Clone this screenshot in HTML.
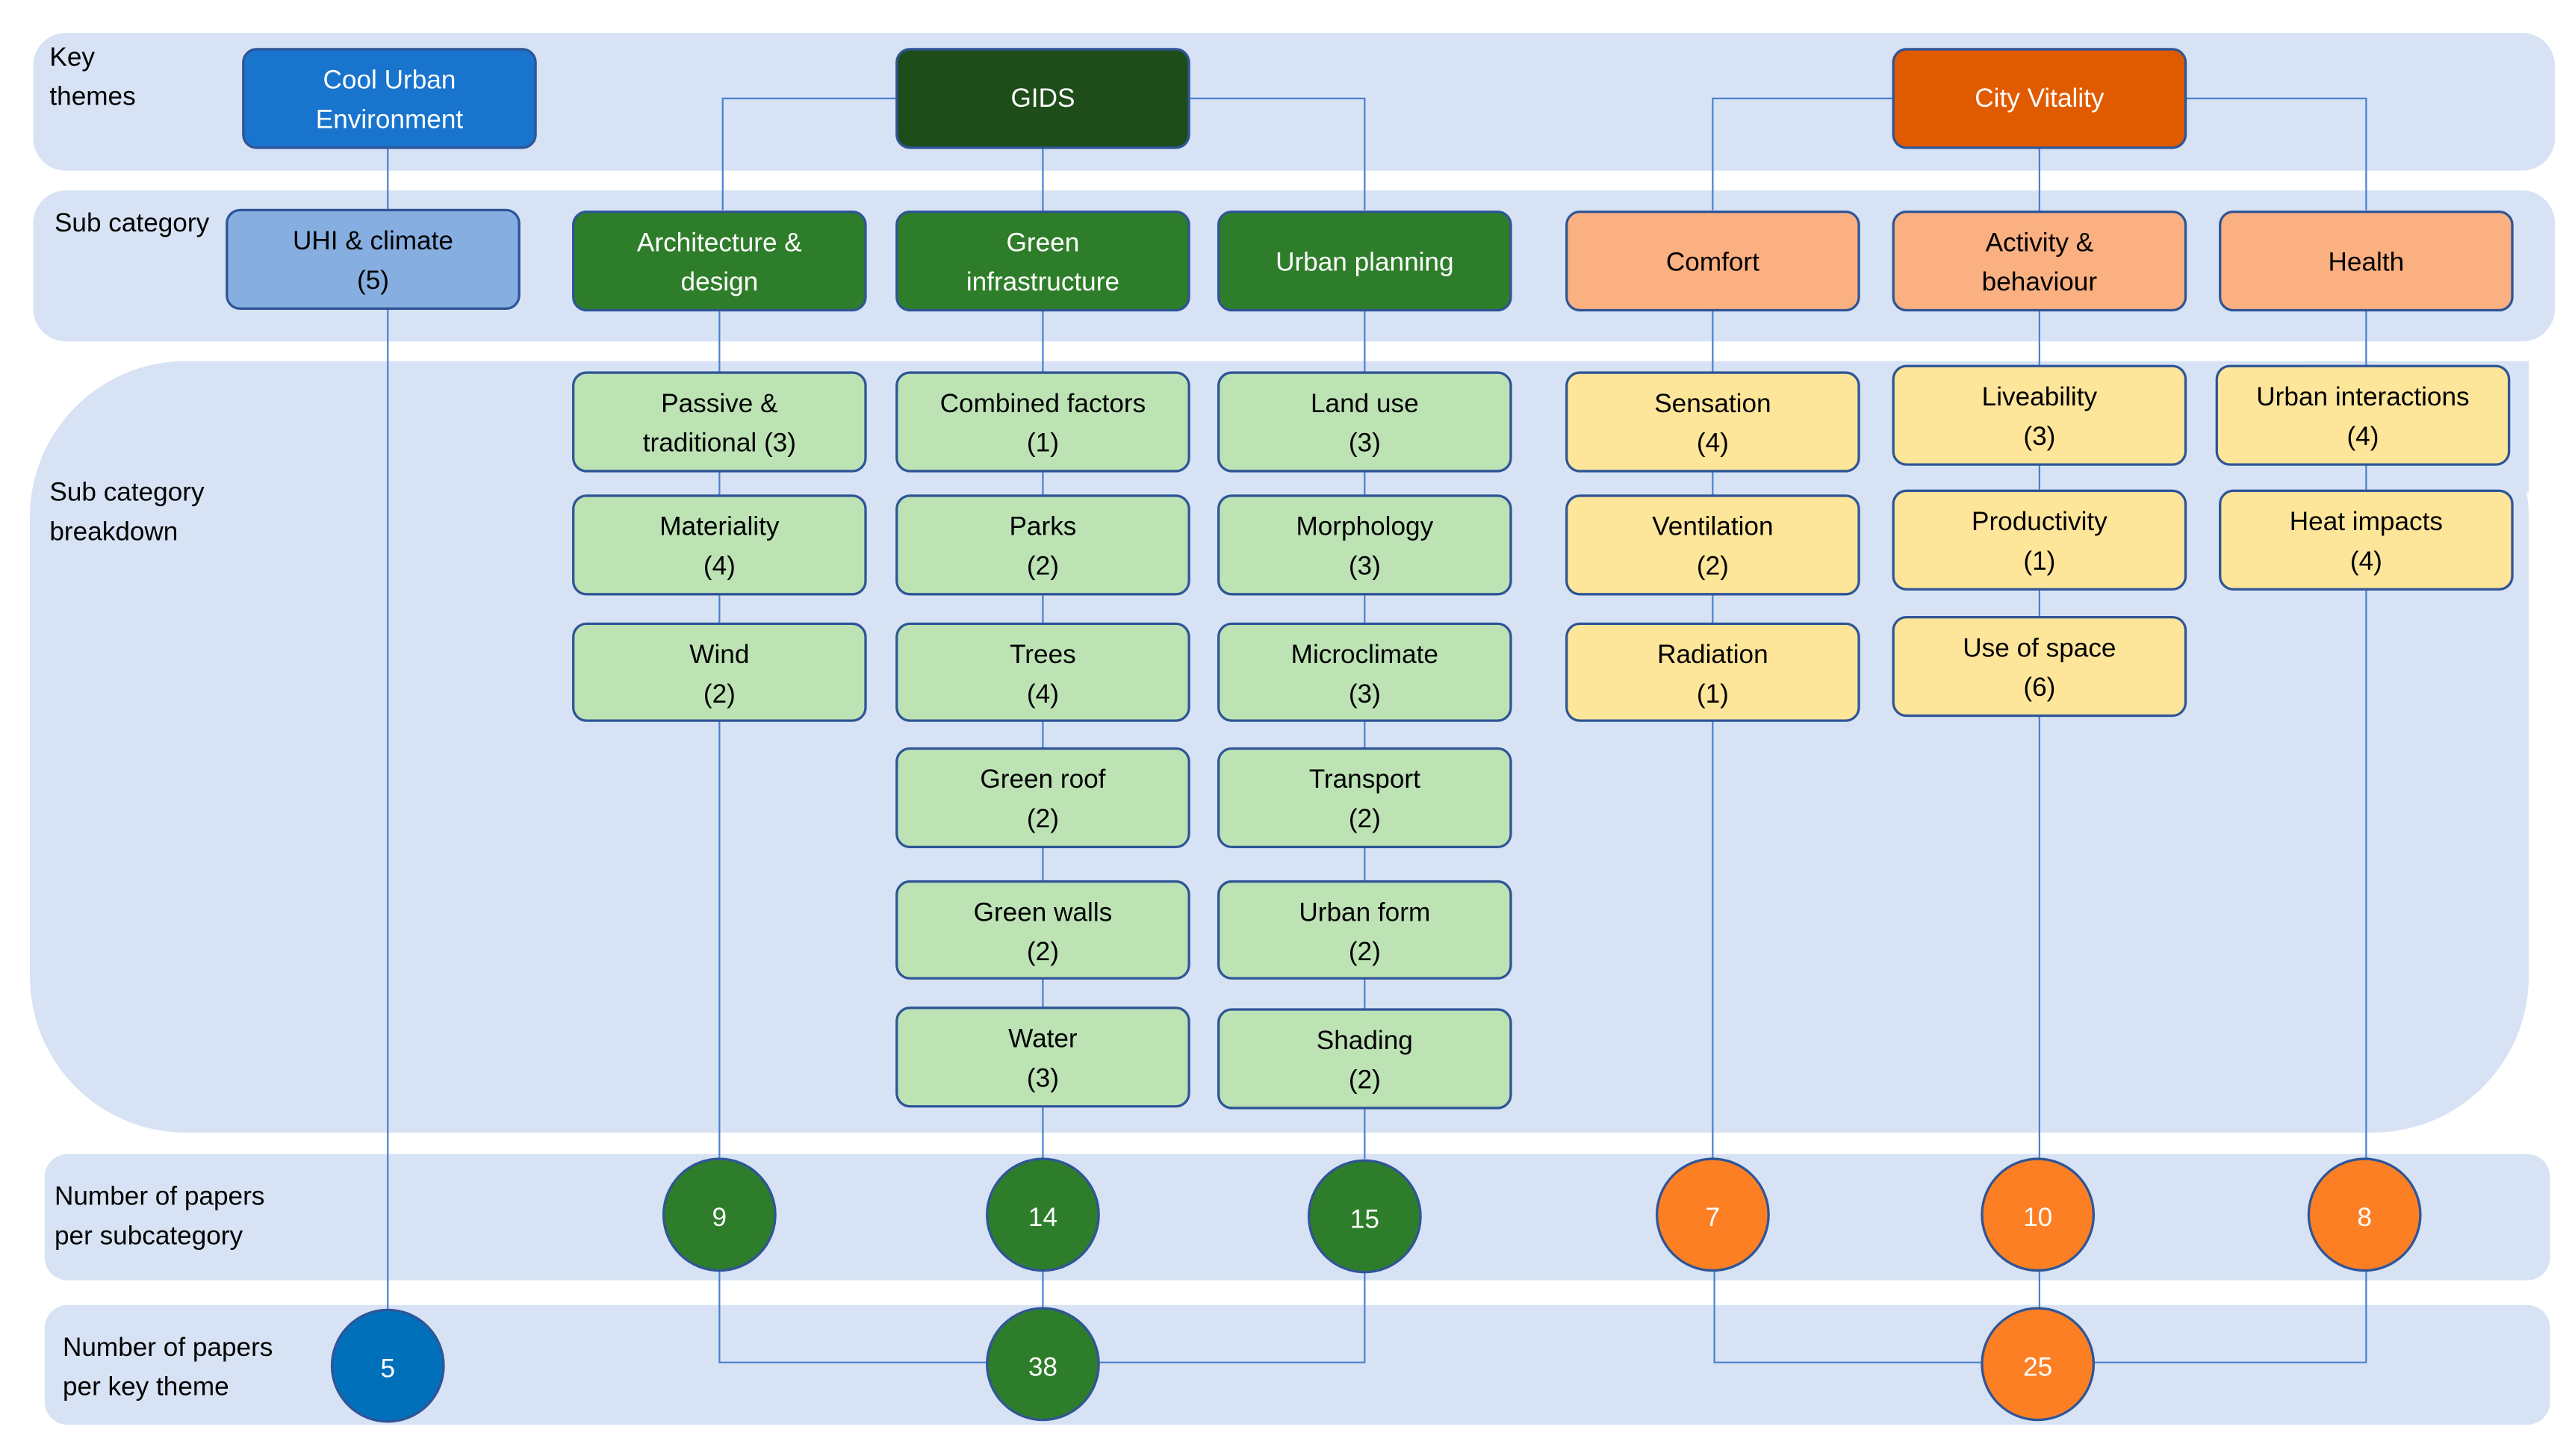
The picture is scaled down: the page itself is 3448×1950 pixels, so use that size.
<!DOCTYPE html>
<html><head><meta charset="utf-8"><style>
html,body{margin:0;padding:0;background:#fff}
svg{display:block}
text{font-family:"Liberation Sans",sans-serif;font-size:16px}
</style></head><body>
<svg width="3448" height="1950" viewBox="0 0 1568 887" xmlns="http://www.w3.org/2000/svg">
<rect width="1568" height="887" fill="#fff"/>
<g fill="#d7e3f4">
<rect x="20" y="20" width="1536" height="84" rx="20"/>
<rect x="20" y="116" width="1536" height="92" rx="20"/>
<rect x="18" y="220" width="1522" height="470" rx="95"/>
<rect x="1400" y="220" width="140" height="80"/>
<rect x="27" y="703" width="1526" height="77" rx="14"/>
<rect x="27" y="795" width="1526" height="73" rx="14"/>
</g>
<g stroke="#4a7fd0" stroke-width="1" fill="none">
<line x1="236" y1="90" x2="236" y2="800"/>
<polyline points="440,128 440,60 831,60 831,128"/>
<line x1="635" y1="90" x2="635" y2="800"/>
<line x1="438" y1="189" x2="438" y2="706"/>
<line x1="831" y1="189" x2="831" y2="706"/>
<polyline points="438,774 438,830 831,830 831,774"/>
<polyline points="1043,128 1043,60 1441,60 1441,128"/>
<line x1="1242" y1="90" x2="1242" y2="800"/>
<line x1="1043" y1="189" x2="1043" y2="706"/>
<line x1="1441" y1="189" x2="1441" y2="706"/>
<polyline points="1044,774 1044,830 1441,830 1441,774"/>
</g>
<g stroke="#2f5597" stroke-width="1.5">
<rect x="148" y="30" width="178" height="60" rx="8" fill="#1874cd"/>
<rect x="546" y="30" width="178" height="60" rx="8" fill="#1e4d1a"/>
<rect x="1153" y="30" width="178" height="60" rx="8" fill="#e05a00"/>
<rect x="138" y="128" width="178" height="60" rx="8" fill="#86aee0"/>
<rect x="349" y="129" width="178" height="60" rx="8" fill="#2e7d2a"/>
<rect x="546" y="129" width="178" height="60" rx="8" fill="#2e7d2a"/>
<rect x="742" y="129" width="178" height="60" rx="8" fill="#2e7d2a"/>
<rect x="954" y="129" width="178" height="60" rx="8" fill="#fbb081"/>
<rect x="1153" y="129" width="178" height="60" rx="8" fill="#fbb081"/>
<rect x="1352" y="129" width="178" height="60" rx="8" fill="#fbb081"/>
<g fill="#bde3b5">
<rect x="349" y="227" width="178" height="60" rx="8"/>
<rect x="349" y="302" width="178" height="60" rx="8"/>
<rect x="349" y="380" width="178" height="59" rx="8"/>
<rect x="546" y="227" width="178" height="60" rx="8"/>
<rect x="546" y="302" width="178" height="60" rx="8"/>
<rect x="546" y="380" width="178" height="59" rx="8"/>
<rect x="546" y="456" width="178" height="60" rx="8"/>
<rect x="546" y="537" width="178" height="59" rx="8"/>
<rect x="546" y="614" width="178" height="60" rx="8"/>
<rect x="742" y="227" width="178" height="60" rx="8"/>
<rect x="742" y="302" width="178" height="60" rx="8"/>
<rect x="742" y="380" width="178" height="59" rx="8"/>
<rect x="742" y="456" width="178" height="60" rx="8"/>
<rect x="742" y="537" width="178" height="59" rx="8"/>
<rect x="742" y="615" width="178" height="60" rx="8"/>
</g>
<g fill="#fde599">
<rect x="954" y="227" width="178" height="60" rx="8"/>
<rect x="954" y="302" width="178" height="60" rx="8"/>
<rect x="954" y="380" width="178" height="59" rx="8"/>
<rect x="1153" y="223" width="178" height="60" rx="8"/>
<rect x="1153" y="299" width="178" height="60" rx="8"/>
<rect x="1153" y="376" width="178" height="60" rx="8"/>
<rect x="1350" y="223" width="178" height="60" rx="8"/>
<rect x="1352" y="299" width="178" height="60" rx="8"/>
</g>
<circle cx="438" cy="740" r="34" fill="#2e7d2a"/>
<circle cx="635" cy="740" r="34" fill="#2e7d2a"/>
<circle cx="831" cy="741" r="34" fill="#2e7d2a"/>
<circle cx="1043" cy="740" r="34" fill="#fd7f24"/>
<circle cx="1241" cy="740" r="34" fill="#fd7f24"/>
<circle cx="1440" cy="740" r="34" fill="#fd7f24"/>
<circle cx="236" cy="832" r="34" fill="#0070bb"/>
<circle cx="635" cy="831" r="34" fill="#2e7d2a"/>
<circle cx="1241" cy="831" r="34" fill="#fd7f24"/>
</g>
<g fill="#000">
<text x="30" y="40">Key</text><text x="30" y="64">themes</text>
<text x="33" y="141">Sub category</text>
<text x="30" y="305">Sub category</text><text x="30" y="329">breakdown</text>
<text x="33" y="734">Number of papers</text><text x="33" y="758">per subcategory</text>
<text x="38" y="826">Number of papers</text><text x="38" y="850">per key theme</text>
</g>
<g text-anchor="middle" fill="#fff">
<text x="237" y="54">Cool Urban</text><text x="237" y="78">Environment</text>
<text x="635" y="65">GIDS</text>
<text x="1242" y="65">City Vitality</text>
<text x="438" y="153">Architecture &amp;</text><text x="438" y="177">design</text>
<text x="635" y="153">Green</text><text x="635" y="177">infrastructure</text>
<text x="831" y="165">Urban planning</text>
</g>
<g text-anchor="middle" fill="#000">
<text x="227" y="152">UHI &amp; climate</text><text x="227" y="176">(5)</text>
<text x="1043" y="165">Comfort</text>
<text x="1242" y="153">Activity &amp;</text><text x="1242" y="177">behaviour</text>
<text x="1441" y="165">Health</text>
<text x="438" y="251">Passive &amp;</text><text x="438" y="275">traditional (3)</text>
<text x="438" y="326">Materiality</text><text x="438" y="350">(4)</text>
<text x="438" y="404">Wind</text><text x="438" y="428">(2)</text>
<text x="635" y="251">Combined factors</text><text x="635" y="275">(1)</text>
<text x="635" y="326">Parks</text><text x="635" y="350">(2)</text>
<text x="635" y="404">Trees</text><text x="635" y="428">(4)</text>
<text x="635" y="480">Green roof</text><text x="635" y="504">(2)</text>
<text x="635" y="561">Green walls</text><text x="635" y="585">(2)</text>
<text x="635" y="638">Water</text><text x="635" y="662">(3)</text>
<text x="831" y="251">Land use</text><text x="831" y="275">(3)</text>
<text x="831" y="326">Morphology</text><text x="831" y="350">(3)</text>
<text x="831" y="404">Microclimate</text><text x="831" y="428">(3)</text>
<text x="831" y="480">Transport</text><text x="831" y="504">(2)</text>
<text x="831" y="561">Urban form</text><text x="831" y="585">(2)</text>
<text x="831" y="639">Shading</text><text x="831" y="663">(2)</text>
<text x="1043" y="251">Sensation</text><text x="1043" y="275">(4)</text>
<text x="1043" y="326">Ventilation</text><text x="1043" y="350">(2)</text>
<text x="1043" y="404">Radiation</text><text x="1043" y="428">(1)</text>
<text x="1242" y="247">Liveability</text><text x="1242" y="271">(3)</text>
<text x="1242" y="323">Productivity</text><text x="1242" y="347">(1)</text>
<text x="1242" y="400">Use of space</text><text x="1242" y="424">(6)</text>
<text x="1439" y="247">Urban interactions</text><text x="1439" y="271">(4)</text>
<text x="1441" y="323">Heat impacts</text><text x="1441" y="347">(4)</text>
</g>
<g text-anchor="middle" fill="#fff" style="font-size:20px">
<text x="438" y="747">9</text>
<text x="635" y="747">14</text>
<text x="831" y="748">15</text>
<text x="1043" y="747">7</text>
<text x="1241" y="747">10</text>
<text x="1440" y="747">8</text>
<text x="236" y="839">5</text>
<text x="635" y="838">38</text>
<text x="1241" y="838">25</text>
</g>
</svg>
</body></html>
